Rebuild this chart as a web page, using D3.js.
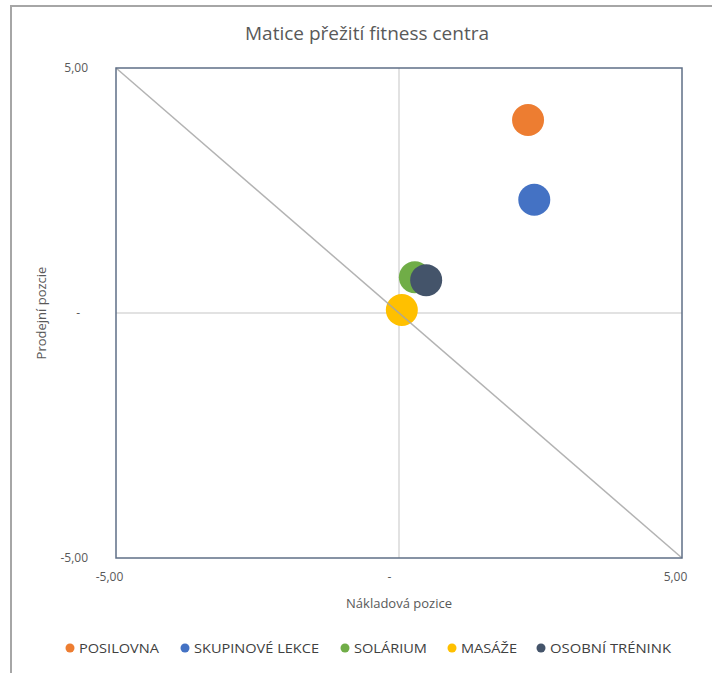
<!DOCTYPE html>
<html>
<head>
<meta charset="utf-8">
<script src="https://cdn.jsdelivr.net/npm/d3@7"></script>
<style>
  html, body { margin: 0; padding: 0; background: #fff; }
  svg { display: block; font-family: "Open Sans", "Liberation Sans", sans-serif; }
</style>
</head>
<body>
<svg id="chart" width="712" height="673"></svg>
<script>
// Segments of the fitness centre plotted on cost position (x) vs. sales position (y)
const segments = ["POSILOVNA", "SKUPINOVÉ LEKCE", "SOLÁRIUM", "MASÁŽE", "OSOBNÍ TRÉNINK"];
const costPosition = [2.28, 2.39, 0.28, 0.05, 0.48];
const salesPosition = [3.94, 2.31, 0.73, 0.06, 0.67];
const colors = ["#ed7d31", "#4472c4", "#70ad47", "#ffc000", "#44546a"];
const tickValues = [-5, 0, 5];
const tickLabels = ["-5,00", "-", "5,00"];
const diagonal = [[-5, 5], [5, -5]];

const svg = d3.select("#chart");
const plot = { left: 116, top: 68, right: 682, bottom: 558 };

// outer chart frame
svg.append("rect")
  .attr("x", 11).attr("y", 6).attr("width", 900).attr("height", 900)
  .attr("fill", "#fff").attr("stroke", "#a6a6a6").attr("stroke-width", 2);

const x = d3.scaleLinear().domain([-5, 5]).range([plot.left, plot.right]);
const y = d3.scaleLinear().domain([-5, 5]).range([plot.bottom, plot.top]);

// title
svg.append("text")
  .attr("x", 367).attr("y", 40)
  .attr("text-anchor", "middle")
  .attr("font-size", 19).attr("fill", "#595959")
  .text("Matice přežití fitness centra");

// centre grid lines
svg.append("line")
  .attr("x1", x(0)).attr("x2", x(0)).attr("y1", y(5)).attr("y2", y(-5))
  .attr("stroke", "#d9d9d9").attr("stroke-width", 1.5);
svg.append("line")
  .attr("x1", x(-5)).attr("x2", x(5)).attr("y1", y(0)).attr("y2", y(0))
  .attr("stroke", "#d9d9d9").attr("stroke-width", 1.5);

// axes (labels only; the frame is drawn separately)
const fmt = d => tickLabels[tickValues.indexOf(d)];
const xAxis = svg.append("g")
  .attr("transform", `translate(-7,${plot.bottom})`)
  .call(d3.axisBottom(x).tickValues(tickValues).tickFormat(fmt).tickSize(0).tickPadding(14));
const yAxis = svg.append("g")
  .attr("transform", `translate(${plot.left},0)`)
  .call(d3.axisLeft(y).tickValues(tickValues).tickFormat(fmt).tickSize(0).tickPadding(28));
[xAxis, yAxis].forEach(g => {
  g.select(".domain").remove();
  g.selectAll("text")
    .attr("font-family", "'Open Sans', sans-serif")
    .attr("font-size", 12).attr("fill", "#595959");
});
xAxis.selectAll("text").filter(d => d === 0).attr("dx", -3);
yAxis.selectAll("text").filter(d => d === 0).attr("dx", -8);

// data points
svg.append("g").selectAll("circle")
  .data(segments.map((s, i) => ({ s, x: costPosition[i], y: salesPosition[i], c: colors[i] })))
  .join("circle")
  .attr("cx", d => x(d.x)).attr("cy", d => y(d.y))
  .attr("r", 16)
  .attr("fill", d => d.c);

// diagonal reference line
svg.append("line")
  .attr("x1", x(diagonal[0][0])).attr("y1", y(diagonal[0][1]))
  .attr("x2", x(diagonal[1][0])).attr("y2", y(diagonal[1][1]))
  .attr("stroke", "#a6a6a6").attr("stroke-opacity", 0.85).attr("stroke-width", 1.5);

// plot frame
svg.append("rect")
  .attr("x", plot.left).attr("y", plot.top)
  .attr("width", plot.right - plot.left).attr("height", plot.bottom - plot.top)
  .attr("fill", "none").attr("stroke", "#5f6f86").attr("stroke-width", 1.5);

// axis titles
svg.append("text")
  .attr("x", 399).attr("y", 608)
  .attr("text-anchor", "middle")
  .attr("font-size", 13).attr("fill", "#595959")
  .text("Nákladová pozice");
svg.append("text")
  .attr("transform", "translate(46,313) rotate(-90)")
  .attr("text-anchor", "middle")
  .attr("font-size", 13).attr("fill", "#595959")
  .text("Prodejní pozcie");

// legend
const legendX = [70, 185, 345, 452, 541];
const legend = svg.append("g").selectAll("g")
  .data(segments)
  .join("g")
  .attr("transform", (d, i) => `translate(${legendX[i]},648)`);
legend.append("circle").attr("r", 4.5).attr("fill", (d, i) => colors[i]);
legend.append("text")
  .attr("x", 9).attr("y", 4.5)
  .attr("font-size", 12.5).attr("fill", "#404040")
  .attr("textLength", (d, i) => [80, 125, 73, 56, 121][i])
  .attr("lengthAdjust", "spacingAndGlyphs")
  .text(d => d);
</script>
</body>
</html>
